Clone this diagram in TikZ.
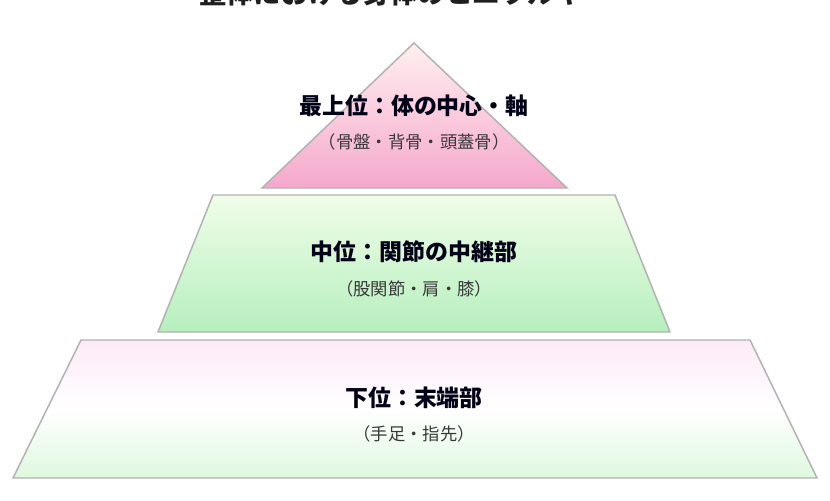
\documentclass[tikz,border=0pt]{standalone}
\usepackage{fontspec}
\newfontfamily\jp{Noto Sans CJK JP}
\begin{document}
\begin{tikzpicture}[x=0.75pt,y=-0.75pt,
  tier/.style={draw=black!30, line width=1.1pt, line join=miter},
  mainlabel/.style={font=\jp\bfseries\fontsize{17.2}{20}\selectfont, text=black!85!blue!60!black},
  sublabel/.style={font=\jp\fontsize{13}{16}\selectfont, text=black!78},
  titlelabel/.style={font=\jp\bfseries\fontsize{20.5}{24}\selectfont, text=black!88, anchor=base}]
\useasboundingbox (0,0) rectangle (830,500);
\clip (0,0) rectangle (830,500);
\fill[white] (0,0) rectangle (830,500);
% title (cut off at top edge, as in the reference)
\node[titlelabel] (title) at (404,3) {整体における身体のヒエラルキー};
% top triangle
\path[tier, top color=pink!25, bottom color={rgb,255:red,245;green,168;blue,204}]
  (414,43) -- (567,188) -- (262,188) -- cycle;
% middle trapezoid
\path[tier, top color={rgb,255:red,240;green,253;blue,232}, bottom color={rgb,255:red,182;green,239;blue,190}]
  (213,195) -- (615,195) -- (670,332) -- (158,332) -- cycle;
% bottom trapezoid
\path[tier, top color={rgb,255:red,252;green,234;blue,248}, bottom color={rgb,255:red,222;green,248;blue,222}, middle color=white]
  (81,340) -- (750,340) -- (817,478) -- (13,478) -- cycle;
% labels
\node[mainlabel] (top) at (414,106) {最上位：体の中心・軸};
\node[sublabel] (topsub) at (414,142) {（骨盤・背骨・頭蓋骨）};
\node[mainlabel] (mid) at (414,252) {中位：関節の中継部};
\node[sublabel] (midsub) at (414,289) {（股関節・肩・膝）};
\node[mainlabel] (low) at (414,398) {下位：末端部};
\node[sublabel] (lowsub) at (414,434) {（手足・指先）};
\end{tikzpicture}
\end{document}
